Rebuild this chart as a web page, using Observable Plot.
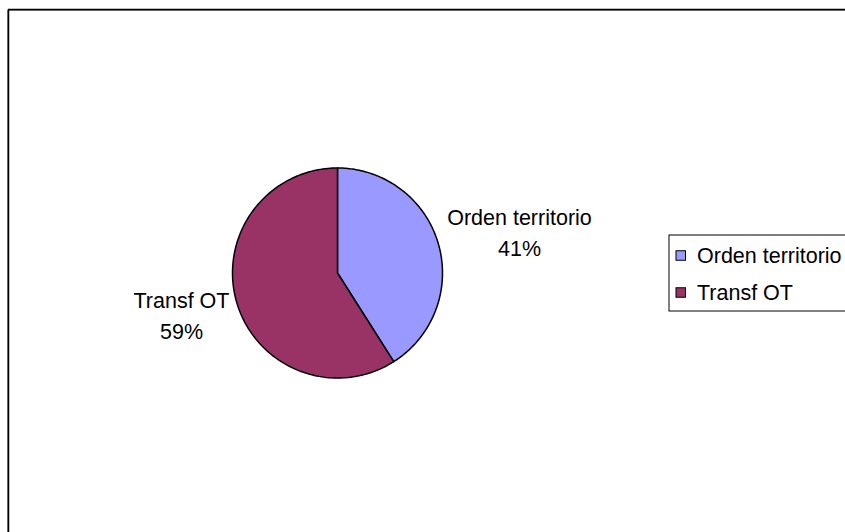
<!DOCTYPE html>
<html><head><meta charset="utf-8">
<script src="https://cdn.jsdelivr.net/npm/d3@7"></script>
<script src="https://cdn.jsdelivr.net/npm/@observablehq/plot@0.6"></script>
<style>html,body{margin:0;padding:0;background:#fff;overflow:hidden} svg{display:block}</style>
</head><body><div id="chart"></div>
<script>
// ---- data ----
const categories = ["Orden territorio", "Transf OT"];
const values = [41, 59];
const colors = ["#9999FF", "#993366"];

// ---- layout ----
const W = 845, H = 532;
const cx = 337, cy = 272.5, R = 105;
const FONT = "'Liberation Sans', Arial, sans-serif";
const FS = 21.5;
const labelOffsets = [[182, -42.5], [-156, 40.5]];   // label centres relative to pie centre
const legend = {x1: 669, x2: 860, y1: 235, y2: 311, sqX: 676, sq: 9.5, textX: 696.5, rowY: [255.5, 292.5]};

const total = d3.sum(values);
const rows = categories.map((c, i) => ({name: c, value: values[i], i}));
const arcs = d3.pie().sort(null).value(d => d.value)(rows);

// slice outlines (in chart coordinates, through Plot's x/y scales)
const slicePts = arcs.flatMap(a => {
  const pts = [{name: a.data.name, x: cx, y: cy}];
  const n = 160;
  for (let k = 0; k <= n; k++) {
    const t = a.startAngle + (a.endAngle - a.startAngle) * k / n;
    pts.push({name: a.data.name, x: cx + R * Math.sin(t), y: cy - R * Math.cos(t)});
  }
  pts.push({name: a.data.name, x: cx, y: cy});
  return pts;
});

const labels = rows.map((d, i) => ({
  text: d.name + "\n" + Math.round(d.value / total * 100) + "%",
  x: cx + labelOffsets[i][0],
  y: cy + labelOffsets[i][1]
}));

const legendRows = rows.map((d, i) => ({name: d.name, y: legend.rowY[i]}));

const chart = Plot.plot({
  width: W, height: H,
  margin: 0,
  style: {fontFamily: FONT, background: "#fff", overflow: "hidden"},
  x: {domain: [0, W], range: [0, W], axis: null},
  y: {domain: [0, H], range: [0, H], axis: null},
  color: {domain: categories, range: colors},
  marks: [
    // chart border
    Plot.rect([0], {x1: 7.5, x2: 900, y1: 10.5, y2: 600, fill: "none", stroke: "#888", strokeWidth: 1}),
    Plot.rect([0], {x1: 8.5, x2: 900, y1: 9.5, y2: 600, fill: "none", stroke: "#000", strokeWidth: 1.5}),
    // pie
    Plot.line(slicePts, {x: "x", y: "y", z: "name", fill: "name", stroke: "#000", strokeWidth: 1.5, strokeLinejoin: "round", curve: "linear"}),
    // labels
    Plot.text(labels, {x: "x", y: "y", text: "text", fontSize: FS, lineHeight: 1.47, fill: "#000", textAnchor: "middle", lineAnchor: "middle"}),
    // legend
    Plot.rect([0], {x1: legend.x1, x2: legend.x2, y1: legend.y1, y2: legend.y2, fill: "#fff", stroke: "#000", strokeWidth: 1}),
    Plot.rect(legendRows, {x1: legend.sqX, x2: legend.sqX + legend.sq, y1: d => d.y - legend.sq / 2, y2: d => d.y + legend.sq / 2, fill: "name", stroke: "#000", strokeWidth: 1}),
    Plot.text(legendRows, {x: legend.textX, y: "y", text: "name", fontSize: FS, fill: "#000", textAnchor: "start"})
  ]
});
document.getElementById("chart").appendChild(chart);
</script>
</body></html>
